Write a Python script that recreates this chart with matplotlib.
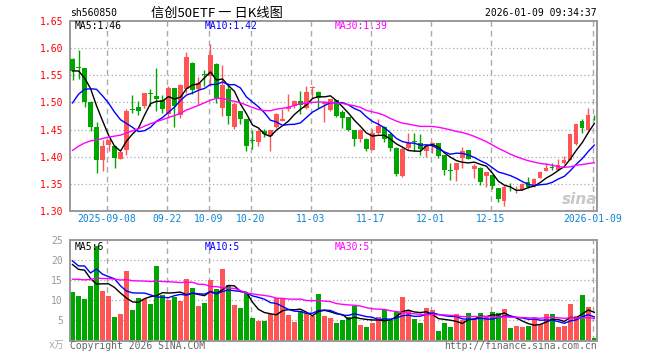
import numpy as np
import pandas as pd
import matplotlib.pyplot as plt

# trading days shown (2025-08-29 .. 2026-01-09, CN holidays removed)
holidays = pd.to_datetime(['2025-10-01', '2025-10-02', '2025-10-03', '2025-10-06',
                           '2025-10-07', '2025-10-08', '2026-01-01', '2026-01-02'])
dates = [d for d in pd.bdate_range('2025-08-29', '2026-01-09') if d not in holidays]

opens = [1.580, 1.565, 1.564, 1.501, 1.454, 1.394, 1.422, 1.420, 1.396, 1.412,
         1.487, 1.491, 1.493, 1.518, 1.511, 1.504, 1.478, 1.526, 1.476, 1.524,
         1.573, 1.524, 1.553, 1.549, 1.570, 1.490, 1.524, 1.455, 1.484, 1.470,
         1.431, 1.428, 1.448, 1.438, 1.455, 1.466, 1.488, 1.494, 1.502, 1.490,
         1.526, 1.520, 1.497, 1.486, 1.504, 1.482, 1.473, 1.450, 1.433, 1.433,
         1.413, 1.443, 1.455, 1.441, 1.416, 1.365, 1.416, 1.429, 1.425, 1.410,
         1.419, 1.425, 1.404, 1.376, 1.375, 1.398, 1.413, 1.377, 1.380, 1.365,
         1.367, 1.342, 1.319, 1.339, 1.338, 1.339, 1.354, 1.345, 1.360, 1.373,
         1.381, 1.376, 1.388, 1.394, 1.423, 1.465, 1.449, 1.477]
highs = [1.581, 1.596, 1.564, 1.503, 1.464, 1.431, 1.433, 1.421, 1.410, 1.487,
         1.514, 1.502, 1.518, 1.524, 1.563, 1.514, 1.530, 1.527, 1.534, 1.593,
         1.574, 1.546, 1.560, 1.607, 1.572, 1.569, 1.535, 1.500, 1.485, 1.470,
         1.450, 1.451, 1.451, 1.450, 1.481, 1.488, 1.516, 1.504, 1.521, 1.530,
         1.530, 1.521, 1.502, 1.507, 1.505, 1.486, 1.474, 1.450, 1.451, 1.435,
         1.451, 1.469, 1.457, 1.443, 1.417, 1.418, 1.444, 1.444, 1.442, 1.421,
         1.428, 1.426, 1.404, 1.388, 1.389, 1.418, 1.413, 1.387, 1.381, 1.371,
         1.367, 1.342, 1.348, 1.351, 1.346, 1.352, 1.363, 1.361, 1.374, 1.389,
         1.388, 1.396, 1.402, 1.441, 1.460, 1.470, 1.489, 1.477]
lows = [1.541, 1.544, 1.491, 1.447, 1.370, 1.374, 1.410, 1.379, 1.395, 1.403,
        1.481, 1.476, 1.489, 1.493, 1.485, 1.481, 1.472, 1.455, 1.472, 1.518,
        1.515, 1.496, 1.530, 1.530, 1.499, 1.475, 1.461, 1.451, 1.461, 1.411,
        1.414, 1.420, 1.437, 1.411, 1.453, 1.465, 1.484, 1.490, 1.478, 1.487,
        1.509, 1.490, 1.464, 1.484, 1.473, 1.453, 1.447, 1.419, 1.428, 1.410,
        1.413, 1.442, 1.428, 1.410, 1.365, 1.362, 1.413, 1.410, 1.404, 1.400,
        1.407, 1.398, 1.367, 1.357, 1.355, 1.380, 1.395, 1.361, 1.348, 1.345,
        1.341, 1.317, 1.309, 1.336, 1.334, 1.339, 1.342, 1.345, 1.360, 1.373,
        1.375, 1.376, 1.387, 1.394, 1.422, 1.443, 1.448, 1.467]
closes = [1.558, 1.563, 1.501, 1.454, 1.394, 1.420, 1.431, 1.398, 1.409, 1.485,
          1.486, 1.485, 1.517, 1.516, 1.506, 1.488, 1.527, 1.494, 1.533, 1.584,
          1.523, 1.536, 1.551, 1.587, 1.509, 1.533, 1.475, 1.498, 1.470, 1.420,
          1.429, 1.448, 1.441, 1.449, 1.478, 1.469, 1.491, 1.502, 1.496, 1.519,
          1.528, 1.509, 1.499, 1.506, 1.475, 1.472, 1.450, 1.433, 1.450, 1.414,
          1.443, 1.457, 1.433, 1.416, 1.369, 1.414, 1.425, 1.428, 1.414, 1.420,
          1.425, 1.402, 1.375, 1.374, 1.388, 1.410, 1.396, 1.382, 1.354, 1.371,
          1.346, 1.322, 1.345, 1.338, 1.339, 1.349, 1.345, 1.359, 1.371, 1.380,
          1.380, 1.384, 1.394, 1.441, 1.460, 1.452, 1.476, 1.476]
# volume, 万手
volumes = [12.0, 11.0, 10.25, 13.5, 23.5, 12.25, 11.0, 5.75, 6.5, 17.25,
           7.5, 10.5, 10.25, 9.0, 18.5, 11.25, 10.0, 10.75, 9.75, 15.25,
           13.0, 8.5, 9.25, 15.0, 12.75, 17.75, 13.75, 8.75, 8.0, 11.75,
           5.5, 4.75, 4.75, 6.5, 10.5, 10.5, 6.25, 4.5, 7.25, 6.75,
           6.0, 11.5, 6.0, 5.5, 4.25, 5.0, 5.75, 8.5, 3.75, 3.25,
           4.25, 5.75, 7.5, 5.0, 7.0, 10.75, 7.5, 5.25, 4.25, 8.0,
           7.5, 2.25, 4.25, 3.25, 6.5, 5.0, 6.75, 5.25, 6.75, 6.0,
           7.0, 6.75, 7.75, 3.0, 3.5, 3.25, 3.5, 5.75, 4.0, 6.5,
           6.5, 3.25, 3.5, 9.0, 6.0, 11.25, 8.25, 0.5]

# closes / volumes of the 29 sessions before the window, backed out of the MA lines
prior_close = [1.330, 1.325, 1.335, 1.340, 1.345, 1.350, 1.345, 1.355, 1.360, 1.370,
               1.375, 1.370, 1.380, 1.390, 1.385, 1.400, 1.395, 1.405, 1.400, 1.400,
               1.403, 1.410, 1.444, 1.404, 1.540, 1.563, 1.566, 1.550, 1.553]
prior_volume = [12, 14, 11, 13, 15, 12, 10, 13, 14, 16, 12, 11, 13, 15, 14, 12, 13, 14, 12, 13.5,
                23.5, 10.25, 31, 13.5, 25.25, 17, 11.25, 24, 30.25]

tick_dates = ['2025-09-08', '2025-09-22', '2025-10-09', '2025-10-20', '2025-11-03',
              '2025-11-17', '2025-12-01', '2025-12-15', '2026-01-09']
tick_labels = ['2025-09-08', '09-22', '10-09', '10-20', '11-03', '11-17', '12-01', '12-15', '2026-01-09']

RED = '#ff5555'
GREEN = '#00a600'
GRID = '#aaaaaa'
FRAME = '#999999'
MONO = 'DejaVu Sans Mono'

n = len(closes)
x = np.arange(n)
o = np.array(opens); c = np.array(closes); h = np.array(highs); l = np.array(lows)
up = c >= o
cols = np.where(up, RED, GREEN)

all_close = pd.Series(prior_close + closes)
all_vol = pd.Series(prior_volume + volumes)
ma = {k: all_close.rolling(k).mean().values[-n:] for k in (5, 10, 30)}
vma = {k: all_vol.rolling(k).mean().values[-n:] for k in (5, 10, 30)}
ma_colors = {5: 'black', 10: '#0000ff', 30: '#ff00ff'}

W, H = 660, 360
fig = plt.figure(figsize=(6.6, 3.6), dpi=100)
L, R = 70, 597
ax = fig.add_axes([L / W, 1 - 211 / H, (R - L) / W, (211 - 21) / H])
axv = fig.add_axes([L / W, 1 - 340.5 / H, (R - L) / W, (340.5 - 240) / H])

tick_pos = [dates.index(pd.Timestamp(d)) - 0.3 for d in tick_dates]

for a in (ax, axv):
    a.set_xlim(-0.42, n - 1 + 0.45)
    for s in a.spines.values():
        s.set_color(FRAME)
        s.set_linewidth(1.4)
    for p in tick_pos:
        a.axvline(p, color=GRID, lw=1, ls=(0, (4, 3)), zorder=0)
    a.tick_params(length=0)

# candles
ax.vlines(x, l, h, color=cols, lw=1, zorder=2)
body = np.maximum(np.abs(c - o), 0.0016)
ax.bar(x, body, bottom=np.minimum(o, c), width=0.72, color=cols, lw=0, zorder=3)
for k in (5, 10, 30):
    ax.plot(x, ma[k], color=ma_colors[k], lw=1, zorder=4)

ax.set_ylim(1.30, 1.65)
yt = np.round(np.arange(1.30, 1.651, 0.05), 2)
ax.set_yticks(yt)
ax.set_yticklabels(['%.2f' % v for v in yt], color='#ff0000', fontsize=7, family=MONO)
for v in yt[1:-1]:
    ax.axhline(v, color=GRID, lw=0.9, ls=(0, (1, 2)), zorder=0)
ax.set_xticks(tick_pos)
ax.set_xticklabels(tick_labels, color='#0a84d6', fontsize=7, family=MONO)
ax.tick_params(axis='y', pad=5)
ax.tick_params(axis='x', pad=2)

# volume
axv.bar(x, volumes, width=0.82, color=cols, lw=0, zorder=2)
for k in (5, 10, 30):
    axv.plot(x, vma[k], color=ma_colors[k], lw=1, zorder=4)
axv.set_ylim(0, 25)
vt = [5, 10, 15, 20, 25]
axv.set_yticks(vt)
axv.set_yticklabels([str(v) for v in vt], color='#999999', fontsize=7, family=MONO)
for v in vt[:-1]:
    axv.axhline(v, color=GRID, lw=0.9, ls=(0, (1, 2)), zorder=0)
axv.set_xticks([])
axv.tick_params(axis='y', pad=5)


def ftext(px, py, s, **kw):
    fig.text(px / W, 1 - py / H, s, va='center', **kw)


ftext(70, 13, 'sh560850', fontsize=7, family=MONO)
ftext(217, 13, '信创50ETF 一 日K线图', fontsize=9.5, family='Noto Sans CJK SC', ha='center')
ftext(597, 13, '2026-01-09 09:34:37', fontsize=7, family=MONO, ha='right')

ftext(75, 26, 'MA5:1.46', fontsize=7, family=MONO, color='black')
ftext(205, 26, 'MA10:1.42', fontsize=7, family=MONO, color='#0000ff')
ftext(335, 26, 'MA30:1.39', fontsize=7, family=MONO, color='#ff00ff')
ftext(75, 247, 'MA5:6', fontsize=7, family=MONO, color='black')
ftext(205, 247, 'MA10:5', fontsize=7, family=MONO, color='#0000ff')
ftext(335, 247, 'MA30:5', fontsize=7, family=MONO, color='#ff00ff')

ftext(64, 345, 'x万', fontsize=7, family=[MONO, 'Noto Sans CJK SC'], color='#aaaaaa', ha='right')
ftext(70, 346, 'Copyright 2026 SINA.COM', fontsize=7, family=MONO, color='#666666')
ftext(597, 346, 'http://finance.sina.com.cn', fontsize=7, family=MONO, color='#666666', ha='right')
ftext(580, 199, 'sina', fontsize=11, fontweight='bold', style='italic', color='#c8c8c8', ha='center')

fig.savefig('out.png', dpi=100)
